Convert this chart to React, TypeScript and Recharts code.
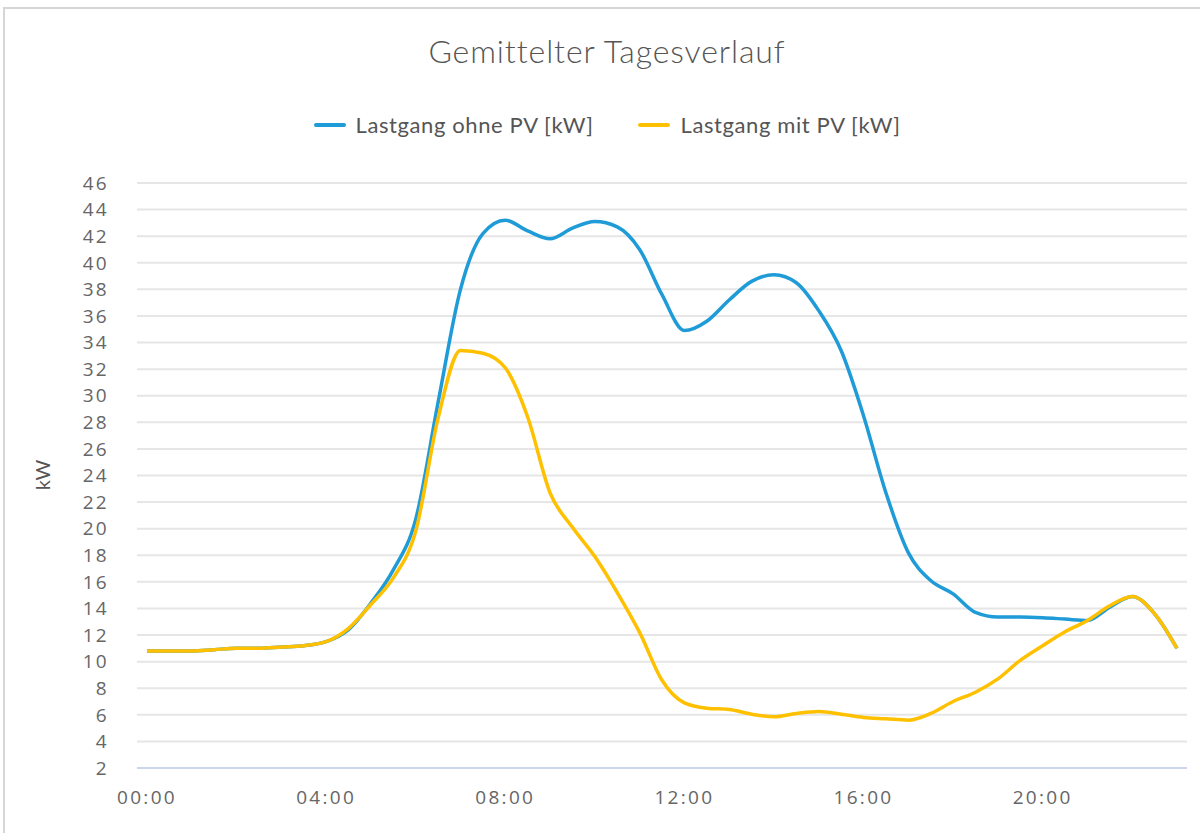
import React from 'react';
import { LineChart, Line, XAxis, YAxis, CartesianGrid } from 'recharts';

const times = [
  '00:00','00:30','01:00','01:30','02:00','02:30','03:00','03:30','04:00','04:30',
  '05:00','05:30','06:00','06:30','07:00','07:30','08:00','08:30','09:00','09:30',
  '10:00','10:30','11:00','11:30','12:00','12:30','13:00','13:30','14:00','14:30',
  '15:00','15:30','16:00','16:30','17:00','17:30','18:00','18:30','19:00','19:30',
  '20:00','20:30','21:00','21:30','22:00','22:30','23:00',
];

const ohnePV = [
  10.8, 10.8, 10.8, 10.9, 11.0, 11.0, 11.1, 11.2, 11.5, 12.4,
  14.4, 16.9, 20.7, 29.5, 38.0, 42.2, 43.2, 42.4, 41.8, 42.6,
  43.1, 42.7, 41.0, 37.6, 34.9, 35.6, 37.2, 38.6, 39.1, 38.5,
  36.4, 33.4, 28.5, 22.7, 18.2, 16.1, 15.1, 13.7, 13.35, 13.35,
  13.3, 13.2, 13.1, 14.1, 14.9, 13.6, 11.0,
];

const mitPV = [
  10.8, 10.8, 10.8, 10.9, 11.0, 11.0, 11.1, 11.2, 11.5, 12.5,
  14.3, 16.3, 19.8, 28.3, 33.4, 33.2, 32.1, 28.4, 22.7, 20.1,
  17.9, 15.2, 12.2, 8.6, 6.9, 6.5, 6.4, 6.05, 5.85, 6.1,
  6.25, 6.05, 5.8, 5.7, 5.6, 6.1, 7.0, 7.7, 8.7, 10.1,
  11.2, 12.25, 13.1, 14.2, 14.9, 13.6, 11.0,
];

const yTicks = [2, 4, 6, 8, 10, 12, 14, 16, 18, 20, 22, 24, 26, 28, 30, 32, 34, 36, 38, 40, 42, 44, 46];

const seriesNames = ['Lastgang ohne PV [kW]', 'Lastgang mit PV [kW]'];
const seriesColors = ['#1f9bd7', '#ffc000'];

const data = times.map((t, i) => ({ t, a: ohnePV[i], b: mitPV[i] }));

const FONT = 'Lato, "Open Sans", sans-serif';
const NUMFONT = '"Open Sans", Lato, sans-serif';

const tickStyle = { fill: '#666', fontSize: 19, fontFamily: NUMFONT, letterSpacing: 2.3 } as any;

export default function App() {
  return (
    <div style={{ position: 'absolute', left: 0, top: 0, width: 1200, height: 833, background: '#fff', overflow: 'hidden' }}>
      <div style={{ position: 'absolute', left: 3, top: 7, width: 1300, height: 900, border: '2px solid #d6d6d6', boxSizing: 'border-box' }} />
      <div style={{ position: 'absolute', left: 0, top: 31, width: 1214, textAlign: 'center', fontFamily: FONT, fontSize: 32, fontWeight: 300, letterSpacing: 0.9, color: '#555' }}>
        Gemittelter Tagesverlauf
      </div>
      <div style={{ position: 'absolute', left: 0, top: 111, width: 1214, display: 'flex', justifyContent: 'center', gap: 45, fontFamily: FONT, fontSize: 22, letterSpacing: 0.6, color: '#555' }}>
        {seriesNames.map((n, i) => (
          <div key={n} style={{ display: 'flex', alignItems: 'center' }}>
            <span style={{ display: 'inline-block', width: 32, height: 4, borderRadius: 2, background: seriesColors[i], marginRight: 10 }} />
            <span>{n}</span>
          </div>
        ))}
      </div>
      <div style={{ position: 'absolute', left: 0, top: 0 }}>
        <LineChart width={1200} height={833} data={data} margin={{ top: 183, right: 13, bottom: 25, left: 77 }}>
          <CartesianGrid horizontal vertical={false} stroke="#e6e6e6" strokeWidth={2} />
          <XAxis
            dataKey="t"
            interval={7}
            padding={{ left: 10, right: 10 }}
            tickSize={0}
            tickMargin={23}
            height={40}
            axisLine={{ stroke: '#ccd6eb', strokeWidth: 2 }}
            tick={tickStyle}
          />
          <YAxis
            domain={[2, 46]}
            ticks={yTicks}
            interval={0}
            width={60}
            tickSize={0}
            tickMargin={28}
            axisLine={false}
            tickLine={false}
            tick={tickStyle}
            label={{
              content: () => (
                <text x={42} y={475} transform="rotate(-90 42 475)" textAnchor="middle" dominantBaseline="central" fill="#555" fontSize={20} fontFamily={FONT}>kW</text>
              ),
            }}
          />
          <Line type="monotone" dataKey="a" name={seriesNames[0]} stroke={seriesColors[0]} strokeWidth={3.5} dot={false} isAnimationActive={false} />
          <Line type="monotone" dataKey="b" name={seriesNames[1]} stroke={seriesColors[1]} strokeWidth={3.5} dot={false} isAnimationActive={false} />
        </LineChart>
      </div>
    </div>
  );
}
